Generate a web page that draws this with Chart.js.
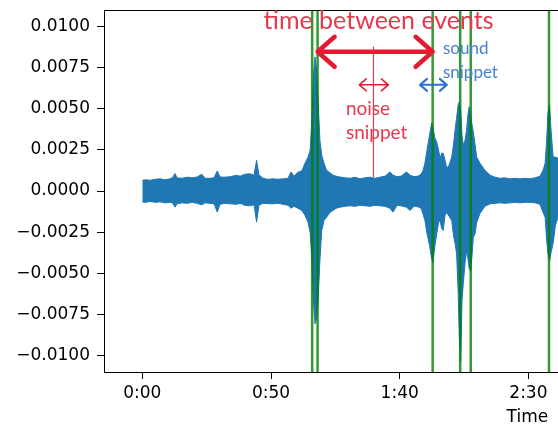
<!DOCTYPE html>
<html>
<head>
<meta charset="utf-8">
<script src="https://cdn.jsdelivr.net/npm/chart.js@4/dist/chart.umd.min.js"></script>
<style>
  html, body { margin: 0; padding: 0; background: #fff; }
</style>
</head>
<body>
<canvas id="chart" width="558" height="425"></canvas>
<script>
// waveform envelope: time (s), upper and lower amplitude
const times = [
  0, 1.4, 3.0, 4.9, 6.9, 8.8, 10.8, 11.9,
  12.7, 13.5, 15.4, 17.4, 19.3, 21.3, 23.1, 24.4,
  26.3, 27.9, 29.1, 30.2, 32.1, 34.1, 36.7, 38.0,
  39.9, 41.8, 43.4, 44.4, 45.3, 46.9, 48.8, 50.8,
  52.7, 54.7, 56.6, 57.8, 58.9, 60.5, 62.0, 63.2,
  64.4, 65.2, 65.9, 66.5, 67.1, 67.7, 68.3, 69.0,
  69.7, 70.6, 71.6, 72.9, 74.1, 75.3, 76.8, 78.8,
  80.7, 82.6, 84.6, 86.5, 88.5, 90.4, 92.3, 94.3,
  96.2, 97.4, 99.0, 100.5, 102.7, 104.0, 105.6, 107.1,
  108.3, 109.1, 109.8, 110.6, 111.6, 112.4, 112.9, 113.7,
  114.4, 115.1, 115.7, 116.3, 116.9, 117.6, 118.3, 119.2,
  120.2, 120.9, 121.5, 122.1, 122.7, 123.2, 123.7, 124.2,
  124.7, 125.4, 126.0, 126.5, 127.0, 127.6, 128.1, 128.6,
  129.3, 129.9, 131.2, 133.1, 135.1, 137.0, 139.0, 140.9,
  142.9, 144.8, 146.7, 148.7, 150.6, 152.6, 154.5, 155.7,
  156.5, 157.1, 157.6, 158.2, 158.8, 159.6, 160.5, 161.5
];
const upper = [
  .00065, .00068, .00065, .00071, .00074, .00068, .00074, .00084,
  .00106, .00080, .00077, .00084, .00080, .00085, .00102, .00077,
  .00077, .00080, .00122, .00085, .00084, .00087, .00096, .00090,
  .00102, .00105, .00096, .00187, .00099, .00077, .00071, .00074,
  .00071, .00074, .00077, .00116, .00090, .00114, .00123, .00169,
  .00206, .00248, .00431, .00706, .00815, .00736, .00553, .00309,
  .00218, .00169, .00126, .00111, .00096, .00090, .00085, .00080,
  .00077, .00084, .00074, .00080, .00084, .00077, .00084, .00090,
  .00116, .00096, .00087, .00090, .00116, .00096, .00087, .00090,
  .00102, .00126, .00169, .00248, .00340, .00413, .00382, .00321,
  .00297, .00248, .00199, .00230, .00230, .00187, .00138, .00157,
  .00206, .00279, .00370, .00443, .00523, .00543, .00492, .00340,
  .00279, .00309, .00370, .00462, .00512, .00462, .00401, .00358,
  .00279, .00206, .00169, .00126, .00096, .00084, .00077, .00080,
  .00074, .00077, .00074, .00077, .00074, .00080, .00090, .00126,
  .00169, .00309, .00474, .00523, .00370, .00206, .00206, .00199
];
const lower = [
  -.00067, -.00069, -.00063, -.00069, -.00066, -.00072, -.00069, -.00075,
  -.00098, -.00078, -.00072, -.00075, -.00069, -.00075, -.00084, -.00072,
  -.00075, -.00078, -.00128, -.00081, -.00075, -.00078, -.00081, -.00075,
  -.00087, -.00090, -.00084, -.00189, -.00087, -.00075, -.00077, -.00078,
  -.00075, -.00081, -.00087, -.00105, -.00093, -.00105, -.00118, -.00148,
  -.00191, -.00252, -.00423, -.00667, -.00807, -.00776, -.00667, -.00423,
  -.00240, -.00179, -.00159, -.00130, -.00118, -.00105, -.00098, -.00093,
  -.00090, -.00093, -.00087, -.00090, -.00093, -.00087, -.00090, -.00093,
  -.00105, -.00128, -.00087, -.00090, -.00099, -.00118, -.00093, -.00096,
  -.00105, -.00142, -.00179, -.00258, -.00331, -.00410, -.00435, -.00331,
  -.00258, -.00191, -.00179, -.00227, -.00240, -.00148, -.00130, -.00154,
  -.00179, -.00270, -.00319, -.00380, -.00606, -.00910, -.01032, -.00667,
  -.00563, -.00435, -.00362, -.00410, -.00471, -.00484, -.00392, -.00282,
  -.00258, -.00191, -.00136, -.00093, -.00078, -.00075, -.00072, -.00075,
  -.00072, -.00069, -.00072, -.00069, -.00069, -.00072, -.00081, -.00130,
  -.00160, -.00301, -.00380, -.00423, -.00374, -.00319, -.00209, -.00160
];

// detected event onsets (green lines), seconds
const events = [66.0, 68.1, 112.8, 123.5, 127.6, 158.0];

const xTicks = [0, 50, 100, 150];
const yTicks = [-0.01, -0.0075, -0.005, -0.0025, 0, 0.0025, 0.005, 0.0075, 0.01];

// hand-drawn annotations, placed in data coordinates
const notes = {
  title: { t: 91.8, v: 0.01035, text: 'time between events' },
  bigArrow: { t1: 68.1, t2: 112.8, v: 0.00846 },
  noiseLine: { t: 89.8, v1: 0.00878, v2: 0.00084 },
  noiseArrow: { t1: 84.3, t2: 95.6, v: 0.00645 },
  noiseText: { t: 79.1, v: 0.00498, lines: ['noise', 'snippet'] },
  soundArrow: { t1: 107.9, t2: 118.3, v: 0.00645 },
  soundText: { t: 116.8, v: 0.00864, lines: ['sound', 'snippet'] },
  xLabel: { t: 149.6, text: 'Time' }
};

const RED = '#e31b31', RED_TXT = '#e8384c', BLUE = '#2e6fcf', BLUE_TXT = '#4a80d4';

function arrow(ctx, x1, x2, y, hx, hy, color, lw){
  ctx.save();
  ctx.strokeStyle = color;
  ctx.lineWidth = lw;
  ctx.lineCap = 'round';
  ctx.lineJoin = 'round';
  ctx.beginPath();
  ctx.moveTo(x1, y); ctx.lineTo(x2, y);
  ctx.moveTo(x1 + hx, y - hy); ctx.lineTo(x1, y); ctx.lineTo(x1 + hx, y + hy);
  ctx.moveTo(x2 - hx, y - hy); ctx.lineTo(x2, y); ctx.lineTo(x2 - hx, y + hy);
  ctx.stroke();
  ctx.restore();
}

const annotate = {
  id: 'annotate',
  afterDatasetsDraw(chart){
    const ctx = chart.ctx, xs = chart.scales.x, ys = chart.scales.y, a = chart.chartArea;
    const px = v => xs.getPixelForValue(v), py = v => ys.getPixelForValue(v);

    // top spine
    ctx.save();
    ctx.strokeStyle = '#000'; ctx.lineWidth = 1;
    ctx.beginPath(); ctx.moveTo(a.left, a.top + 0.5); ctx.lineTo(a.right, a.top + 0.5); ctx.stroke();

    ctx.textBaseline = 'middle';
    ctx.fillStyle = RED_TXT;
    ctx.font = '25px Lato';
    ctx.textAlign = 'center';
    ctx.fillText(notes.title.text, px(notes.title.t), py(notes.title.v));

    arrow(ctx, px(notes.bigArrow.t1), px(notes.bigArrow.t2), py(notes.bigArrow.v), 17, 15, RED, 4.5);

    ctx.strokeStyle = RED_TXT; ctx.lineWidth = 1.2;
    const lx = px(notes.noiseLine.t);
    ctx.beginPath(); ctx.moveTo(lx, py(notes.noiseLine.v1)); ctx.lineTo(lx, py(notes.noiseLine.v2)); ctx.stroke();

    arrow(ctx, px(notes.noiseArrow.t1), px(notes.noiseArrow.t2), py(notes.noiseArrow.v), 7, 6, RED, 1.5);
    arrow(ctx, px(notes.soundArrow.t1), px(notes.soundArrow.t2), py(notes.soundArrow.v), 7, 6, BLUE, 2);

    ctx.textAlign = 'left';
    ctx.font = '19px Lato';
    ctx.fillStyle = RED_TXT;
    notes.noiseText.lines.forEach((s, i) => ctx.fillText(s, px(notes.noiseText.t), py(notes.noiseText.v) + i * 24));
    ctx.font = '17px Lato';
    ctx.fillStyle = BLUE_TXT;
    notes.soundText.lines.forEach((s, i) => ctx.fillText(s, px(notes.soundText.t), py(notes.soundText.v) + i * 23.5));

    // x axis label, centred on the full (cropped) axis
    ctx.fillStyle = '#000';
    ctx.font = '17px "DejaVu Sans"';
    ctx.textAlign = 'center';
    ctx.fillText(notes.xLabel.text, px(notes.xLabel.t), a.bottom + 46);
    ctx.restore();
  }
};

const datasets = events.map(t => ({
  data: [{x: t, y: -0.011}, {x: t, y: 0.011}],
  borderColor: 'rgba(0,128,0,0.8)',
  borderWidth: 2.5,
  pointRadius: 0,
  fill: false,
  order: 0
}));
datasets.push({
  data: times.map((t, i) => ({x: t, y: upper[i]})),
  borderColor: '#1f77b4', backgroundColor: '#1f77b4',
  borderWidth: 1, pointRadius: 0, fill: '+1', order: 1
});
datasets.push({
  data: times.map((t, i) => ({x: t, y: lower[i]})),
  borderColor: '#1f77b4', backgroundColor: '#1f77b4',
  borderWidth: 1, pointRadius: 0, fill: false, order: 1
});

function mmss(v){
  const m = Math.floor(v / 60), s = Math.round(v % 60);
  return m + ':' + (s < 10 ? '0' : '') + s;
}

const tickFont = { family: 'DejaVu Sans', size: 17 };
const noPad = s => { s.paddingTop = 0; s.paddingBottom = 0; s.paddingLeft = 0; s.paddingRight = 0; };

new Chart(document.getElementById('chart'), {
  type: 'line',
  data: { datasets },
  options: {
    responsive: false,
    animation: false,
    devicePixelRatio: 1,
    layout: { padding: { top: 10, right: 0, left: 0, bottom: 0 } },
    plugins: { legend: { display: false }, tooltip: { enabled: false } },
    scales: {
      x: {
        type: 'linear', min: -14.88, max: 161.5,
        afterBuildTicks: s => { s.ticks = xTicks.map(v => ({ value: v })); },
        afterFit: s => { s.height = 53; noPad(s); },
        ticks: { callback: v => mmss(v), font: tickFont, color: '#000', padding: 4, maxRotation: 0, autoSkip: false },
        grid: { drawOnChartArea: false, tickLength: 7, color: '#000' },
        border: { color: '#000', width: 1 }
      },
      y: {
        min: -0.011, max: 0.011,
        afterBuildTicks: s => { s.ticks = yTicks.map(v => ({ value: v })); },
        afterFit: s => { s.width = 104; noPad(s); },
        ticks: { callback: v => v.toFixed(4).replace('-', '\u2212'), font: tickFont, color: '#000', padding: 7 },
        grid: { drawOnChartArea: false, tickLength: 7, color: '#000' },
        border: { color: '#000', width: 1 }
      }
    }
  },
  plugins: [annotate]
});
</script>
</body>
</html>
